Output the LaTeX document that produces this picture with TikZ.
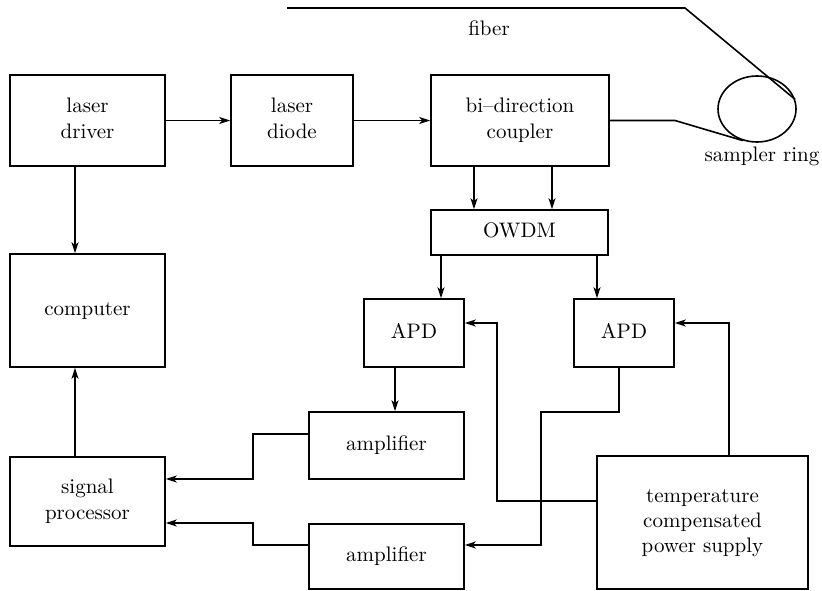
\documentclass[tikz,border=0pt]{standalone}
\usepackage{graphicx}
\usetikzlibrary{arrows.meta,shapes.geometric}
% text set at 10pt design size and enlarged
\newcommand{\tx}[1]{\scalebox{2.1}{\begin{tabular}{@{}c@{}}#1\end{tabular}}}
\begin{document}
\begin{tikzpicture}[x=1pt,y=-1pt,
  line width=1.6pt,
  >={Stealth[length=11pt,width=7pt,inset=3pt]},
  box/.style={draw,rectangle,inner sep=0pt,align=center},
  lbl/.style={inner sep=0pt}]
\useasboundingbox (0,0) rectangle (822,591);

% blocks
\node[box,minimum width=155pt,minimum height=91pt] (drv)  at (87.5,120.5) {\tx{laser\\driver}};
\node[box,minimum width=122pt,minimum height=91pt] (dio)  at (292,120.5) {\tx{laser\\diode}};
\node[box,minimum width=178pt,minimum height=91pt] (cpl)  at (520,120.5) {\tx{bi--direction\\coupler}};
\node[box,minimum width=177pt,minimum height=45pt] (owdm) at (519.5,232.5) {\tx{OWDM}};
\node[box,minimum width=100pt,minimum height=68pt] (apdA) at (414,333) {\tx{APD}};
\node[box,minimum width=100pt,minimum height=68pt] (apdB) at (624,333) {\tx{APD}};
\node[box,minimum width=155pt,minimum height=67pt] (ampA) at (386.5,445.5) {\tx{amplifier}};
\node[box,minimum width=155pt,minimum height=65pt] (ampB) at (386.5,556.5) {\tx{amplifier}};
\node[box,minimum width=155pt,minimum height=113pt] (comp) at (87.5,310.5) {\tx{computer}};
\node[box,minimum width=155pt,minimum height=89pt] (sp)   at (87.5,501.5) {\tx{signal\\processor}};
\node[box,minimum width=211pt,minimum height=133pt] (tps)  at (702.5,522.5) {\tx{temperature\\compensated\\power supply}};

% fibre ring
\node[draw,ellipse,inner sep=0pt,minimum width=78pt,minimum height=66pt] (ring) at (757,109) {};
\node[lbl] (fib) at (489,30) {\tx{fiber}};
\node[lbl] (rl)  at (762,156) {\tx{sampler ring}};

% routing columns and rows
\coordinate (xl) at (75,0);
\coordinate (xc1) at (474,0);
\coordinate (xc2) at (552,0);
\coordinate (xo1) at (441,0);
\coordinate (xo2) at (597,0);
\coordinate (xa1) at (395,0);
\coordinate (xa2) at (619,0);
\coordinate (xj) at (541,0);
\coordinate (xs) at (253,0);
\coordinate (xf1) at (497,0);
\coordinate (xf2) at (729,0);
\coordinate (yf) at (0,323);
\coordinate (yb) at (0,412);
\coordinate (ya1) at (0,434);
\coordinate (ys1) at (0,479);
\coordinate (ys2) at (0,523);
\coordinate (ya2) at (0,545);
\coordinate (yt) at (0,501);
\coordinate (fa) at (287,8);
\coordinate (fb) at (685,8);
\coordinate (fc) at (675,120.5);

% optical path
\draw[->] (drv) -- (dio);
\draw[->] (dio) -- (cpl);
\draw (fa) -- (fb) -- (ring.14);
\draw (cpl.east) -- (fc) -- (ring.-114);
\draw[->] (cpl.south -| xc1) -- (owdm.north -| xc1);
\draw[->] (cpl.south -| xc2) -- (owdm.north -| xc2);
\draw[->] (owdm.south -| xo1) -- (apdA.north -| xo1);
\draw[->] (owdm.south -| xo2) -- (apdB.north -| xo2);

% control and signal path
\draw[->] (drv.south -| xl) -- (comp.north -| xl);
\draw[->] (sp.north -| xl) -- (comp.south -| xl);
\draw[->] (apdA.south -| xa1) -- (ampA.north -| xa1);
\draw[->] (apdB.south -| xa2) -- (xa2 |- yb) -- (xj |- yb) -- (xj |- ya2) -- (ampB.east |- ya2);
\draw[->] (ampA.west |- ya1) -- (xs |- ya1) -- (xs |- ys1) -- (sp.east |- ys1);
\draw[->] (ampB.west |- ya2) -- (xs |- ya2) -- (xs |- ys2) -- (sp.east |- ys2);

% bias supply
\draw[->] (tps.west |- yt) -- (xf1 |- yt) -- (xf1 |- yf) -- (apdA.east |- yf);
\draw[->] (tps.north -| xf2) -- (xf2 |- yf) -- (apdB.east |- yf);
\end{tikzpicture}
\end{document}
